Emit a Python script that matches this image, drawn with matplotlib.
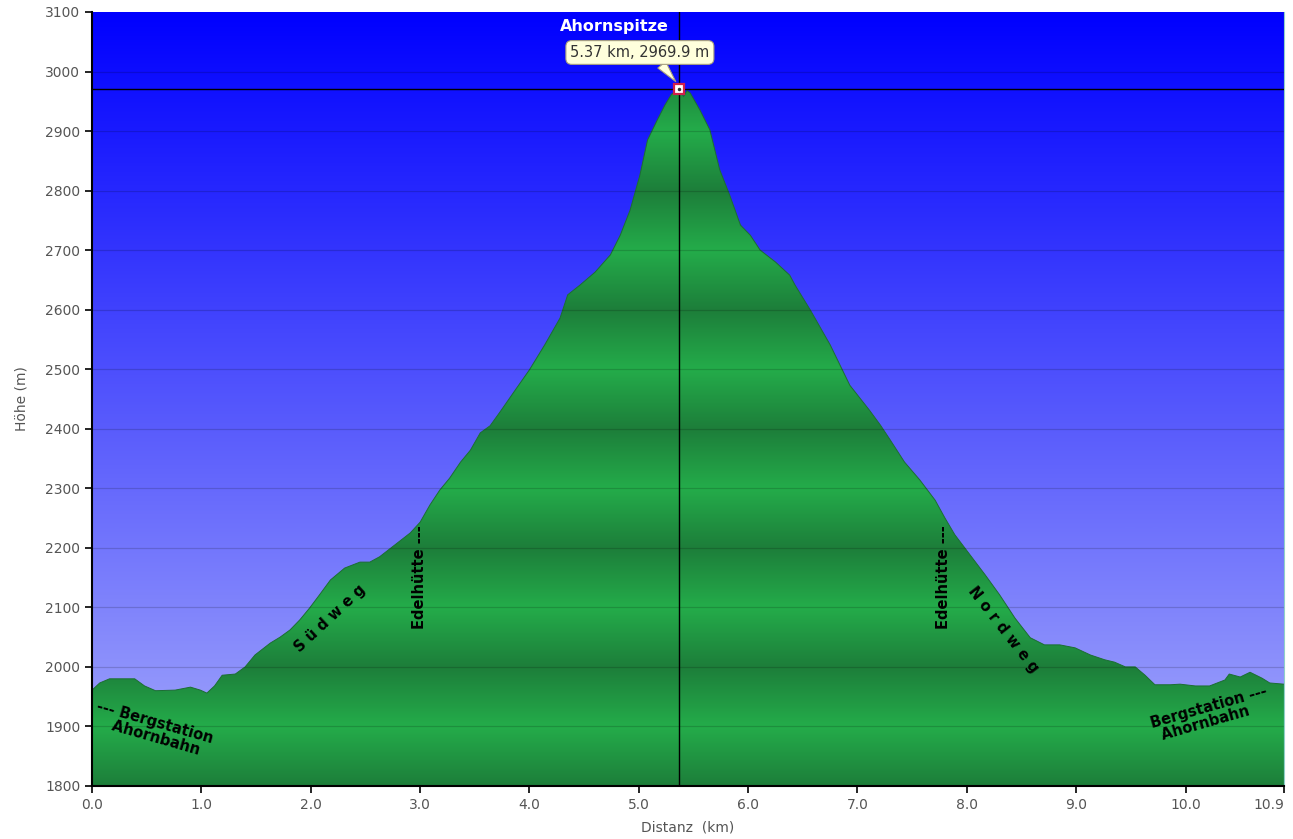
import numpy as np
import matplotlib
matplotlib.use("Agg")
import matplotlib.pyplot as plt
from matplotlib.patches import Polygon
from matplotlib.colors import LinearSegmentedColormap


# profile: distance (km) and height (m)
dist_km = [0.00, 0.07, 0.16, 0.30, 0.39, 0.48, 0.58, 0.76, 0.90, 0.99, 1.05, 1.12,
           1.19, 1.31, 1.40, 1.49, 1.63, 1.72, 1.81, 1.90, 1.99, 2.08, 2.18, 2.31,
           2.45, 2.54, 2.63, 2.77, 2.91, 3.00, 3.09, 3.18, 3.27, 3.37, 3.46, 3.55,
           3.64, 3.73, 3.87, 4.00, 4.14, 4.28, 4.35, 4.46, 4.60, 4.74, 4.83, 4.92,
           5.01, 5.08, 5.17, 5.24, 5.30, 5.37, 5.41, 5.44, 5.47, 5.56, 5.65, 5.74,
           5.83, 5.93, 6.02, 6.11, 6.25, 6.38, 6.43, 6.57, 6.75, 6.93, 7.11, 7.21,
           7.30, 7.43, 7.57, 7.71, 7.80, 7.89, 8.03, 8.17, 8.30, 8.44, 8.58, 8.71,
           8.85, 8.99, 9.13, 9.26, 9.35, 9.45, 9.54, 9.63, 9.72, 9.86, 9.95, 10.09,
           10.22, 10.36, 10.40, 10.50, 10.59, 10.70, 10.77, 10.90]
height_m = [1961, 1973, 1980, 1980, 1980, 1968, 1960, 1961, 1966, 1961, 1956, 1968,
            1986, 1988, 2000, 2020, 2040, 2050, 2062, 2079, 2099, 2121, 2146, 2166,
            2176, 2176, 2185, 2205, 2225, 2243, 2272, 2297, 2317, 2344, 2364, 2393,
            2405, 2428, 2465, 2499, 2541, 2586, 2625, 2641, 2663, 2692, 2725, 2767,
            2826, 2885, 2919, 2944, 2962, 2969.9, 2958, 2968, 2964, 2935, 2902, 2835,
            2793, 2742, 2725, 2700, 2680, 2658, 2641, 2599, 2541, 2473, 2431, 2406,
            2381, 2344, 2314, 2280, 2250, 2222, 2188, 2154, 2121, 2082, 2049, 2037,
            2037, 2032, 2020, 2012, 2008, 2000, 2000, 1986, 1970, 1970, 1971, 1968,
            1968, 1978, 1988, 1983, 1991, 1981, 1973, 1971]

x_ticks = [0, 1, 2, 3, 4, 5, 6, 7, 8, 9, 10, 10.9]
x_tick_labels = ["0.0", "1.0", "2.0", "3.0", "4.0", "5.0", "6.0", "7.0", "8.0",
                 "9.0", "10.0", "10.9"]
y_ticks = list(range(1800, 3101, 100))

peak_km, peak_m = 5.37, 2969.9

x_min, x_max = 0, 10.9
y_min, y_max = 1800, 3100

fig = plt.figure(figsize=(12.93, 8.39), dpi=100)
ax = fig.add_axes([0.0712, 0.0632, 0.9218, 0.9225])

# sky: blue gradient, deep blue on top
sky = LinearSegmentedColormap.from_list("sky", ["#0000FF", "#A6ABFB"])
grad = np.linspace(0, 1, 512).reshape(-1, 1)
ax.imshow(grad, extent=[x_min, x_max, y_min, y_max], origin="upper", cmap=sky,
          aspect="auto", zorder=0, interpolation="bilinear")

# ground: green bands, dark on even hundreds, light on odd hundreds
elev = np.linspace(y_min, y_max, 1300)
t = ((elev - y_min) % 200) / 100.0
shade = np.abs(1 - t).reshape(-1, 1)
ground = LinearSegmentedColormap.from_list("ground", ["#24AC4A", "#1D7E3A"])
im = ax.imshow(shade, extent=[x_min, x_max, y_min, y_max], origin="lower",
               cmap=ground, aspect="auto", zorder=1, interpolation="bilinear")
verts = [(x_min, y_min)] + list(zip(dist_km, height_m)) + [(x_max, y_min)]
patch = Polygon(verts, closed=True, facecolor="none", edgecolor="none")
ax.add_patch(patch)
im.set_clip_path(patch)
ax.plot(dist_km, height_m, color="#1C6E32", lw=0.7, zorder=2)

ax.set_xlim(x_min, x_max)
ax.set_ylim(y_min, y_max)

# grid lines
for yv in y_ticks[1:-1]:
    ax.axhline(yv, color="black", alpha=0.16, lw=0.9, zorder=2)

# cursor lines and peak
ax.axvline(peak_km, color="black", lw=1.0, zorder=3)
ax.axhline(peak_m, color="black", lw=1.0, zorder=3)
ax.plot([peak_km], [peak_m], marker="s", ms=7, mfc="white", mec="#D0204A",
        mew=1.6, zorder=5)
ax.plot([peak_km], [peak_m], marker="o", ms=1.5, color="#333333", zorder=6)

ax.text(4.78, 3075, "Ahornspitze", color="white", fontsize=11.5,
        fontweight="semibold", ha="center", va="center", zorder=6)
ax.annotate("5.37 km, 2969.9 m", xy=(peak_km, peak_m + 6), xytext=(5.01, 3032),
            ha="center", va="center", fontsize=10.5, color="#333333", zorder=6,
            bbox=dict(boxstyle="round,pad=0.3,rounding_size=0.4", fc="#FFFFDC",
                      ec="#A8A080", lw=0.8),
            arrowprops=dict(arrowstyle="wedge,tail_width=0.7", fc="#FFFFDC",
                            ec="#A8A080", lw=0.8, relpos=(0.62, 0.1),
                            shrinkA=0, shrinkB=4))

# route labels
lab = dict(fontsize=10.5, fontweight="bold", color="black", zorder=6,
           ha="center", va="center", rotation_mode="anchor")
ax.text(0.56, 1895, "--- Bergstation\n  Ahornbahn", rotation=-16,
        linespacing=0.95, **lab)
ax.text(2.18, 2082, "S ü d w e g", rotation=43, **lab)
ax.text(2.99, 2150, "Edelhütte ---", rotation=90, **lab)
ax.text(7.79, 2150, "Edelhütte ---", rotation=90, **lab)
ax.text(8.33, 2062, "N o r d w e g", rotation=-52, **lab)
ax.text(10.23, 1921, "Bergstation ---\nAhornbahn   ", rotation=16,
        linespacing=0.95, **lab)

# axes styling
ax.set_xticks(x_ticks)
ax.set_xticklabels(x_tick_labels)
ax.get_xticklabels()[-1].set_horizontalalignment("right")
ax.set_yticks(y_ticks)
ax.tick_params(axis="both", direction="out", length=5, width=1.2,
               color="black", labelsize=10, labelcolor="#555555")
for side in ["left", "bottom"]:
    ax.spines[side].set_linewidth(1.5)
    ax.spines[side].set_color("black")
ax.spines["top"].set_visible(False)
ax.spines["right"].set_color("#8FD0C8")
ax.set_xlabel("Distanz  (km)", fontsize=10, color="#555555", labelpad=6)
ax.set_ylabel("Höhe (m)", fontsize=10, color="#555555", labelpad=12)

fig.savefig("out.png", dpi=100)
